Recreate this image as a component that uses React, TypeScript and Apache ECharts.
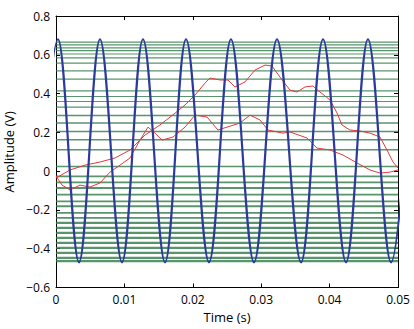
import React, { useEffect, useRef } from "react";
import * as echarts from "echarts";

// Blue sine: peak and trough times (s)
const sinePeakTimes = [0.00029, 0.00643, 0.01272, 0.01901, 0.02558, 0.03231, 0.03904, 0.04561, 0.0522];
const sineTroughTimes = [-0.0029, 0.00336, 0.00965, 0.01594, 0.02237, 0.02895, 0.03582, 0.0424, 0.04898];
const sinePeak = 0.68;
const sineTrough = -0.47;

// Green noisy traces: levels (V)
const greenLevels = [
  0.665, 0.651, 0.636, 0.621, 0.604, 0.584, 0.557, 0.517, 0.474, 0.414, 0.385, 0.359, 0.33,
  0.287, 0.248, 0.205, 0.162, 0.11, 0.024, -0.027, -0.058, -0.087, -0.121, -0.156, -0.181,
  -0.215, -0.241, -0.267, -0.293, -0.318, -0.344, -0.37, -0.396, -0.421, -0.447, -0.464,
];

// Red traces
const redUpperT = [0, 0.00205, 0.00424, 0.00643, 0.00863, 0.01082, 0.01301, 0.0152, 0.0174, 0.01886, 0.02032, 0.02178, 0.02251, 0.02398, 0.02515, 0.02617, 0.02763, 0.02909, 0.03056, 0.03158, 0.03275, 0.03421, 0.03523, 0.0364, 0.03757, 0.0386, 0.04006, 0.04108, 0.04181, 0.04298, 0.04444, 0.04591, 0.04737, 0.04839, 0.04927, 0.05];
const redUpperV = [-0.036, 0.006, 0.031, 0.047, 0.068, 0.109, 0.186, 0.238, 0.299, 0.341, 0.392, 0.454, 0.48, 0.47, 0.47, 0.434, 0.46, 0.521, 0.547, 0.542, 0.485, 0.418, 0.408, 0.434, 0.439, 0.408, 0.367, 0.3, 0.238, 0.212, 0.207, 0.196, 0.176, 0.109, 0.047, 0.016];
const redLowerT = [0, 0.00088, 0.00205, 0.00351, 0.00497, 0.00643, 0.00789, 0.00936, 0.01082, 0.01228, 0.01345, 0.01447, 0.0155, 0.01711, 0.01886, 0.02032, 0.02208, 0.02368, 0.025, 0.0269, 0.02836, 0.02982, 0.03099, 0.03319, 0.03421, 0.0367, 0.03816, 0.04006, 0.04196, 0.04401, 0.04591, 0.04737, 0.04883, 0.05];
const redLowerV = [-0.025, -0.072, -0.097, -0.072, -0.082, -0.061, -0.005, 0.031, 0.068, 0.16, 0.227, 0.196, 0.16, 0.176, 0.227, 0.289, 0.279, 0.212, 0.227, 0.248, 0.289, 0.264, 0.212, 0.196, 0.202, 0.171, 0.119, 0.109, 0.083, 0.042, 0.006, -0.01, -0.005, 0.006];

const xTicks = [0, 0.01, 0.02, 0.03, 0.04, 0.05];
const yMin = -0.6;
const yMax = 0.8;

const FONT = "'Open Sans', 'DejaVu Sans', sans-serif";

function fmt(v: number): string {
  if (Math.abs(v) < 1e-9) return "0";
  const s = String(parseFloat(v.toFixed(3)));
  return s.replace("-", "\u2212");
}

export default function App() {
  const ref = useRef<HTMLDivElement>(null);
  useEffect(() => {
    if (!ref.current) return;
    const chart = echarts.init(ref.current, null, { renderer: "svg" });

    const sineData: number[][] = [];
    for (let i = 0; i < sineTroughTimes.length; i++) {
      sineData.push([sineTroughTimes[i], sineTrough]);
      sineData.push([sinePeakTimes[i], sinePeak]);
    }

    const greenSeries = greenLevels.map((lv) => {
      const w = lv > 0.3 ? 1.2 : lv > 0 ? 1.5 : lv > -0.25 ? 1.9 : 2.3;
      return {
        type: "line",
        data: [
          [xTicks[0], lv],
          [xTicks[xTicks.length - 1], lv],
        ],
        showSymbol: false,
        silent: true,
        lineStyle: { color: "#2e7a45", width: w, opacity: 0.8 },
        z: 1,
      };
    });

    const axisCommon = {
      axisLine: { show: true, onZero: false, lineStyle: { color: "#000", width: 1 } },
      axisTick: { show: true, inside: true, length: 4, lineStyle: { color: "#000" } },
      splitLine: { show: false },
    };

    chart.setOption({
      animation: false,
      grid: {
        left: 56,
        right: 16,
        top: 16,
        bottom: 41.5,
        containLabel: false,
        outerBoundsMode: "none",
      },
      xAxis: [
        {
          type: "value",
          min: 0,
          max: 0.05,
          interval: 0.01,
          ...axisCommon,
          axisLabel: { color: "#000", fontSize: 12, fontFamily: FONT, margin: 6, formatter: fmt },
          name: "Time (s)",
          nameLocation: "middle",
          nameGap: 21,
          nameTextStyle: { color: "#000", fontSize: 13, fontFamily: FONT },
        },
        {
          type: "value",
          position: "top",
          min: 0,
          max: 0.05,
          interval: 0.01,
          ...axisCommon,
          axisLabel: { show: false },
        },
      ],
      yAxis: [
        {
          type: "value",
          min: yMin,
          max: yMax,
          interval: 0.2,
          ...axisCommon,
          axisLabel: { color: "#000", fontSize: 12, fontFamily: FONT, margin: 6, formatter: fmt },
          name: "Amplitude (V)",
          nameLocation: "middle",
          nameGap: 37,
          nameTextStyle: { color: "#000", fontSize: 13, fontFamily: FONT },
        },
        {
          type: "value",
          position: "right",
          min: yMin,
          max: yMax,
          interval: 0.2,
          ...axisCommon,
          axisLabel: { show: false },
        },
      ],
      series: [
        ...greenSeries,
        {
          type: "line",
          data: redUpperT.map((t, i) => [t, redUpperV[i]]),
          showSymbol: false,
          lineStyle: { color: "#e5393b", width: 1 },
          z: 2,
        },
        {
          type: "line",
          data: redLowerT.map((t, i) => [t, redLowerV[i]]),
          showSymbol: false,
          lineStyle: { color: "#e5393b", width: 1 },
          z: 2,
        },
        {
          type: "line",
          data: sineData,
          smooth: 0.364,
          showSymbol: false,
          clip: true,
          lineStyle: { color: "#2b3a9c", width: 2.2 },
          z: 3,
        },
      ],
    });
    return () => chart.dispose();
  }, []);
  return (
    <div
      ref={ref}
      style={{ position: "absolute", left: 0, top: 0, width: 414, height: 329 }}
    />
  );
}
